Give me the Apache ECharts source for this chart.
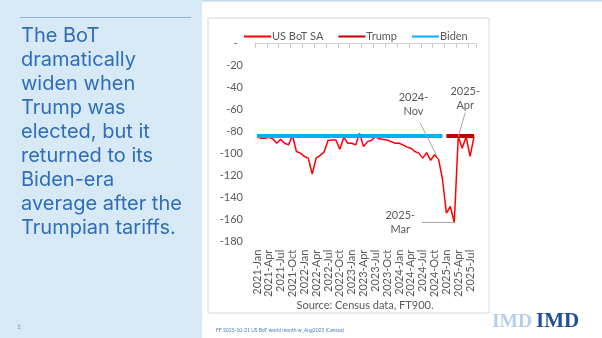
<!DOCTYPE html>
<html>
<head>
<meta charset="utf-8">
<script src="https://cdn.jsdelivr.net/npm/echarts@6/dist/echarts.min.js"></script>
<style>
  html, body { margin: 0; padding: 0; background: #d8e9f6; }
  #chart { width: 602px; height: 338px; }
</style>
</head>
<body>
<div id="chart"></div>
<script>
// Monthly US goods balance of trade, seasonally adjusted, USD bn
const months = [
  '2021-Jan','2021-Feb','2021-Mar','2021-Apr','2021-May','2021-Jun','2021-Jul','2021-Aug','2021-Sep','2021-Oct','2021-Nov','2021-Dec',
  '2022-Jan','2022-Feb','2022-Mar','2022-Apr','2022-May','2022-Jun','2022-Jul','2022-Aug','2022-Sep','2022-Oct','2022-Nov','2022-Dec',
  '2023-Jan','2023-Feb','2023-Mar','2023-Apr','2023-May','2023-Jun','2023-Jul','2023-Aug','2023-Sep','2023-Oct','2023-Nov','2023-Dec',
  '2024-Jan','2024-Feb','2024-Mar','2024-Apr','2024-May','2024-Jun','2024-Jul','2024-Aug','2024-Sep','2024-Oct','2024-Nov','2024-Dec',
  '2025-Jan','2025-Feb','2025-Mar','2025-Apr','2025-May','2025-Jun','2025-Jul','2025-Aug'
];

const botSA = [
  -84.5, -86, -86, -85, -86.5, -90.5, -87, -90.5, -92, -83.5, -98, -99.5,
  -102.5, -104, -118.5, -104, -101.5, -98.5, -88, -87.5, -87.5, -96, -85, -90.5,
  -90.5, -92, -81.5, -93.5, -89, -88, -84.5, -86.5, -87, -87.5, -89, -90.5,
  -90.5, -92, -94, -95, -98, -99.5, -104, -99, -106, -101, -105, -123,
  -154, -148, -162.5, -84.5, -95, -84.5, -102.5, -84.5
];

// Average level of each administration, drawn across its months
const bidenSpan = ['2021-Jan', '2024-Dec'];
const bidenAvg = -84;
const trumpSpan = ['2025-Jan', '2025-Aug'];
const trumpAvg = -84;

// Value axis
const yMin = -180;
const yMax = 0;
const yStep = 20;

// Called-out months
const callouts = [
  { month: '2024-Nov', text: '2024-\nNov' },
  { month: '2025-Apr', text: '2025-\nApr' },
  { month: '2025-Mar', text: '2025-\nMar' }
];

const headline = [
  'The BoT',
  'dramatically',
  'widen when',
  'Trump was',
  'elected, but it',
  'returned to its',
  'Biden-era',
  'average after the',
  'Trumpian tariffs.'
];

// ---- presentation ----
const calloutLayout = {
  '2024-Nov': { label: [-25, -55], from: [-18.5, -36.5] },
  '2025-Apr': { label: [7, -38], from: [7, -24] },
  '2025-Mar': { label: [-54, 0], from: [-32.5, 0] }
};

const GREY = '#595959';
const FONT = 'Lato, "Noto Sans", sans-serif';

const chart = echarts.init(document.getElementById('chart'), null, { renderer: 'canvas' });

const staticGraphics = [
  { type: 'rect', id: 'panel', z: -20, shape: { x: 202, y: 1, width: 400, height: 337 },
    style: { fill: '#ffffff' } },
  { type: 'line', id: 'panelTop', z: -19, shape: { x1: 202, y1: 1, x2: 602, y2: 1 },
    style: { stroke: '#b3cde6', lineWidth: 1 } },
  { type: 'rect', id: 'box', z: -18, shape: { x: 208, y: 18, width: 281, height: 295 },
    style: { fill: '#ffffff', stroke: '#d9d9d9', lineWidth: 1 } },
  { type: 'line', id: 'rule', shape: { x1: 20, y1: 17.5, x2: 191, y2: 17.5 },
    style: { stroke: '#8fb5dc', lineWidth: 1 } },
  { type: 'text', id: 'headline', x: 21, y: 24.5,
    style: { text: headline.join('\n'), font: '20px Inter, Lato, sans-serif', lineHeight: 23.9,
             fill: '#2f6eb6', textVerticalAlign: 'top' } },
  { type: 'text', id: 'source', x: 365, y: 305,
    style: { text: 'Source: Census data, FT900.', font: '11px ' + FONT, fill: GREY,
             textAlign: 'center', textVerticalAlign: 'middle' } },
  { type: 'text', id: 'page', x: 19, y: 327,
    style: { text: '2', font: '6px ' + FONT, fill: '#6a8fb9', textAlign: 'center', textVerticalAlign: 'middle' } },
  { type: 'text', id: 'file', x: 216, y: 330.5,
    style: { text: 'FF 2025-10-31 US BoT world month w_Aug2025 (Census)', font: '5px ' + FONT,
             fill: '#4a7fc1', textVerticalAlign: 'middle' } },
  { type: 'text', id: 'logoA', x: 492, y: 322,
    style: { text: 'IMD', font: 'bold 19.5px "Liberation Serif", serif', fill: '#b7cfea',
             textVerticalAlign: 'middle' } },
  { type: 'text', id: 'logoB', x: 536, y: 322,
    style: { text: 'IMD', font: 'bold 21px "Liberation Serif", serif', fill: '#1d4f9c',
             textVerticalAlign: 'middle' } }
];

const option = {
  backgroundColor: '#d8e9f6',
  animation: false,
  textStyle: { fontFamily: FONT },
  legend: {
    left: 238, top: 26,
    itemWidth: 27, itemHeight: 12, itemGap: 14,
    itemStyle: { opacity: 0 },
    textStyle: { fontSize: 11, color: GREY, padding: [0, 0, 0, -4] },
    data: ['US BoT SA', 'Trump', 'Biden']
  },
  grid: { left: 255, right: 126, top: 43.7, bottom: 96.3, outerBoundsMode: 'none' },
  xAxis: [
    {
      type: 'category', data: months, position: 'bottom', boundaryGap: true,
      axisLine: { show: false, onZero: false },
      axisTick: { show: false },
      axisLabel: { rotate: 90, interval: 2, margin: 8, fontSize: 11, color: GREY, fontFamily: FONT }
    },
    {
      type: 'category', data: months, position: 'top', boundaryGap: true,
      axisLine: { show: true, onZero: false, lineStyle: { color: '#d0d0d0', width: 1 } },
      axisTick: { show: true, inside: true, interval: 2, length: 4, lineStyle: { color: '#c8c8c8' } },
      axisLabel: { show: false }
    }
  ],
  yAxis: {
    type: 'value', min: yMin, max: yMax, interval: yStep,
    axisLine: { show: false }, axisTick: { show: false }, splitLine: { show: false },
    axisLabel: {
      margin: 12, fontSize: 11, color: GREY, fontFamily: FONT,
      formatter: v => (v === 0 ? '-\u2002' : String(v))
    }
  },
  series: [
    {
      name: 'US BoT SA', type: 'line', data: botSA, symbol: 'none',
      lineStyle: { color: '#ff0000', width: 1.5 }, itemStyle: { color: '#ff0000' }, z: 2
    },
    {
      name: 'Trump', type: 'line', data: trumpSpan.map(m => [m, trumpAvg]), symbol: 'none',
      lineStyle: { color: '#c00000', width: 4 }, itemStyle: { color: '#c00000' }, z: 3
    },
    {
      name: 'Biden', type: 'line', data: bidenSpan.map(m => [m, bidenAvg]), symbol: 'none',
      lineStyle: { color: '#00b0f0', width: 4 }, itemStyle: { color: '#00b0f0' }, z: 4
    }
  ],
  graphic: staticGraphics
};

chart.setOption(option);

// Callout leaders and labels, anchored on the plotted points
const calloutGraphics = [];
callouts.forEach((c, k) => {
  const idx = months.indexOf(c.month);
  const p = chart.convertToPixel({ seriesIndex: 0 }, [idx, botSA[idx]]);
  const lay = calloutLayout[c.month];
  calloutGraphics.push({
    type: 'line', id: 'lead' + k, z: 50,
    shape: { x1: p[0] + lay.from[0], y1: p[1] + lay.from[1], x2: p[0], y2: p[1] },
    style: { stroke: '#a6a6a6', lineWidth: 1 }
  });
  calloutGraphics.push({
    type: 'text', id: 'note' + k, z: 50,
    x: p[0] + lay.label[0], y: p[1] + lay.label[1],
    style: { text: c.text, font: '11px ' + FONT, fill: GREY, lineHeight: 14,
             textAlign: 'center', textVerticalAlign: 'middle' }
  });
});

option.graphic = staticGraphics.concat(calloutGraphics);
chart.setOption(option, true);
</script>
</body>
</html>
